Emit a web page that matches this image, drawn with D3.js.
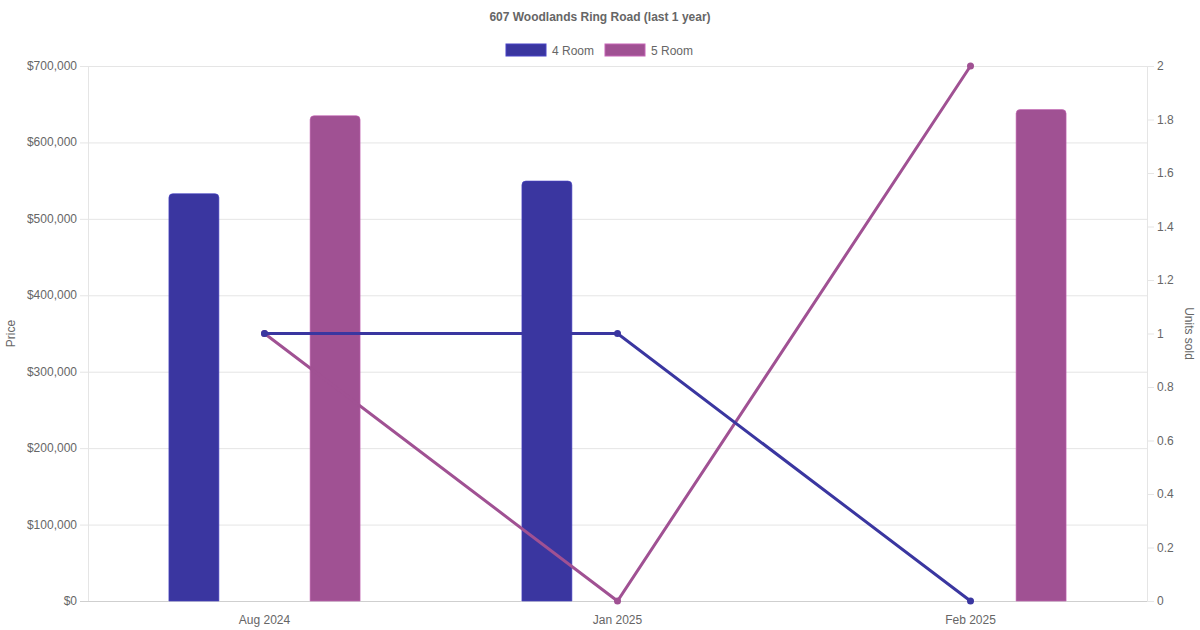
<!DOCTYPE html>
<html>
<head>
<meta charset="utf-8">
<script src="https://cdn.jsdelivr.net/npm/d3@7"></script>
<style>
  body { margin: 0; background: #fff; }
  svg text { font-family: "Liberation Sans", Arial, sans-serif; fill: #666; }
</style>
</head>
<body>
<div id="root"></div>
<script>
// data
const months = ["Aug 2024", "Jan 2025", "Feb 2025"]
const seriesNames = ["4 Room", "5 Room"]
const colors = ["#3a36a0", "#a05193"]
const price4 = [533000, 549500, null]
const price5 = [635000, null, 643000]
const units4 = [1, 1, 0]
const units5 = [1, 0, 2]
const priceTicks = [0, 100000, 200000, 300000, 400000, 500000, 600000, 700000]
const unitTicks = [0, 0.2, 0.4, 0.6, 0.8, 1, 1.2, 1.4, 1.6, 1.8, 2]

const w = 1200, h = 630
const m = {left: 88, right: 53, top: 66, bottom: 29}

const svg = d3.select("#root").append("svg")
    .attr("width", w)
    .attr("height", h)

//scales
const x = d3.scaleBand()
    .domain(months)
    .range([m.left, w - m.right])

const slot = d3.scaleBand()
    .domain(seriesNames)
    .range([0, x.bandwidth() * 0.8])

const yPrice = d3.scaleLinear()
    .domain([0, 700000])
    .range([h - m.bottom, m.top])

const yUnits = d3.scaleLinear()
    .domain([0, 2])
    .range([h - m.bottom, m.top])

// title + legend
svg.append("text")
    .attr("x", w / 2)
    .attr("y", 21)
    .attr("text-anchor", "middle")
    .attr("font-size", 12)
    .attr("font-weight", "bold")
    .text("607 Woodlands Ring Road (last 1 year)")

const legendX = [506, 605]
seriesNames.forEach((s, i) => {
    const g = svg.append("g").attr("transform", `translate(${legendX[i]},44)`)
    g.append("rect")
        .attr("width", 40).attr("height", 12)
        .attr("fill", colors[i])
        .attr("stroke", d3.color(colors[i]).brighter(0.6))
        .attr("stroke-width", 1)
    g.append("text")
        .attr("x", 46).attr("y", 10.5)
        .attr("font-size", 12)
        .text(s)
})

// grid
svg.append("g").selectAll("line")
    .data(priceTicks)
    .enter().append("line")
    .attr("x1", m.left - 8)
    .attr("x2", w - m.right)
    .attr("y1", d => yPrice(d) + 0.5)
    .attr("y2", d => yPrice(d) + 0.5)
    .attr("stroke", d => d === 0 ? "#cfcfcf" : "#e5e5e5")

// axis lines
svg.append("line")
    .attr("x1", m.left + 0.5).attr("x2", m.left + 0.5)
    .attr("y1", m.top).attr("y2", h - m.bottom)
    .attr("stroke", "#e5e5e5")
svg.append("line")
    .attr("x1", w - m.right + 0.5).attr("x2", w - m.right + 0.5)
    .attr("y1", m.top).attr("y2", h - m.bottom)
    .attr("stroke", "#e5e5e5")

// left tick labels
svg.append("g").selectAll("text")
    .data(priceTicks)
    .enter().append("text")
    .attr("x", m.left - 11)
    .attr("y", d => yPrice(d) + 4)
    .attr("text-anchor", "end")
    .attr("font-size", 12)
    .text(d => "$" + d3.format(",")(d))

// right ticks
const rt = svg.append("g")
rt.selectAll("line")
    .data(unitTicks)
    .enter().append("line")
    .attr("x1", w - m.right)
    .attr("x2", w - m.right + 7)
    .attr("y1", d => yUnits(d) + 0.5)
    .attr("y2", d => yUnits(d) + 0.5)
    .attr("stroke", "#e5e5e5")
rt.selectAll("text")
    .data(unitTicks)
    .enter().append("text")
    .attr("x", w - m.right + 10)
    .attr("y", d => yUnits(d) + 4)
    .attr("font-size", 12)
    .text(d => d3.format("~g")(d))

// x labels
svg.append("g").selectAll("text")
    .data(months)
    .enter().append("text")
    .attr("x", d => x(d) + x.bandwidth() / 2)
    .attr("y", h - 6)
    .attr("text-anchor", "middle")
    .attr("font-size", 12)
    .text(d => d)

// axis titles
svg.append("text")
    .attr("transform", `translate(15,${(m.top + h - m.bottom) / 2}) rotate(-90)`)
    .attr("text-anchor", "middle")
    .attr("font-size", 12)
    .text("Price")
svg.append("text")
    .attr("transform", `translate(1185,${(m.top + h - m.bottom) / 2}) rotate(90)`)
    .attr("text-anchor", "middle")
    .attr("font-size", 12)
    .text("Units sold")

// bars
const barW = 50
const priceSeries = [price4, price5]
priceSeries.forEach((vals, si) => {
    const data = months.map((mo, i) => ({mo, v: vals[i]})).filter(d => d.v != null)
    svg.append("g").selectAll("path")
        .data(data)
        .enter().append("path")
        .attr("fill", colors[si])
        .attr("stroke", d3.color(colors[si]).brighter(0.6))
        .attr("stroke-width", 0.6)
        .attr("d", d => {
            const cx = x(d.mo) + x.bandwidth() * 0.1 + slot(seriesNames[si]) + slot.bandwidth() / 2
            const x0 = cx - barW / 2, x1 = cx + barW / 2
            const y0 = yPrice(0), y1 = yPrice(d.v), r = 4
            return `M${x0},${y0}V${y1 + r}Q${x0},${y1} ${x0 + r},${y1}H${x1 - r}Q${x1},${y1} ${x1},${y1 + r}V${y0}Z`
        })
})

// lines (5 Room under 4 Room)
const line = d3.line()
    .x((d, i) => x(months[i]) + x.bandwidth() / 2)
    .y(d => yUnits(d))

const unitSeries = [units4, units5]
;[1, 0].forEach(si => {
    const vals = unitSeries[si]
    svg.append("path")
        .datum(vals)
        .attr("fill", "none")
        .attr("stroke", colors[si])
        .attr("stroke-width", 3)
        .attr("d", line)
    svg.append("g").selectAll("circle")
        .data(vals)
        .enter().append("circle")
        .attr("cx", (d, i) => x(months[i]) + x.bandwidth() / 2)
        .attr("cy", d => yUnits(d))
        .attr("r", 3.5)
        .attr("fill", colors[si])
})
</script>
</body>
</html>
